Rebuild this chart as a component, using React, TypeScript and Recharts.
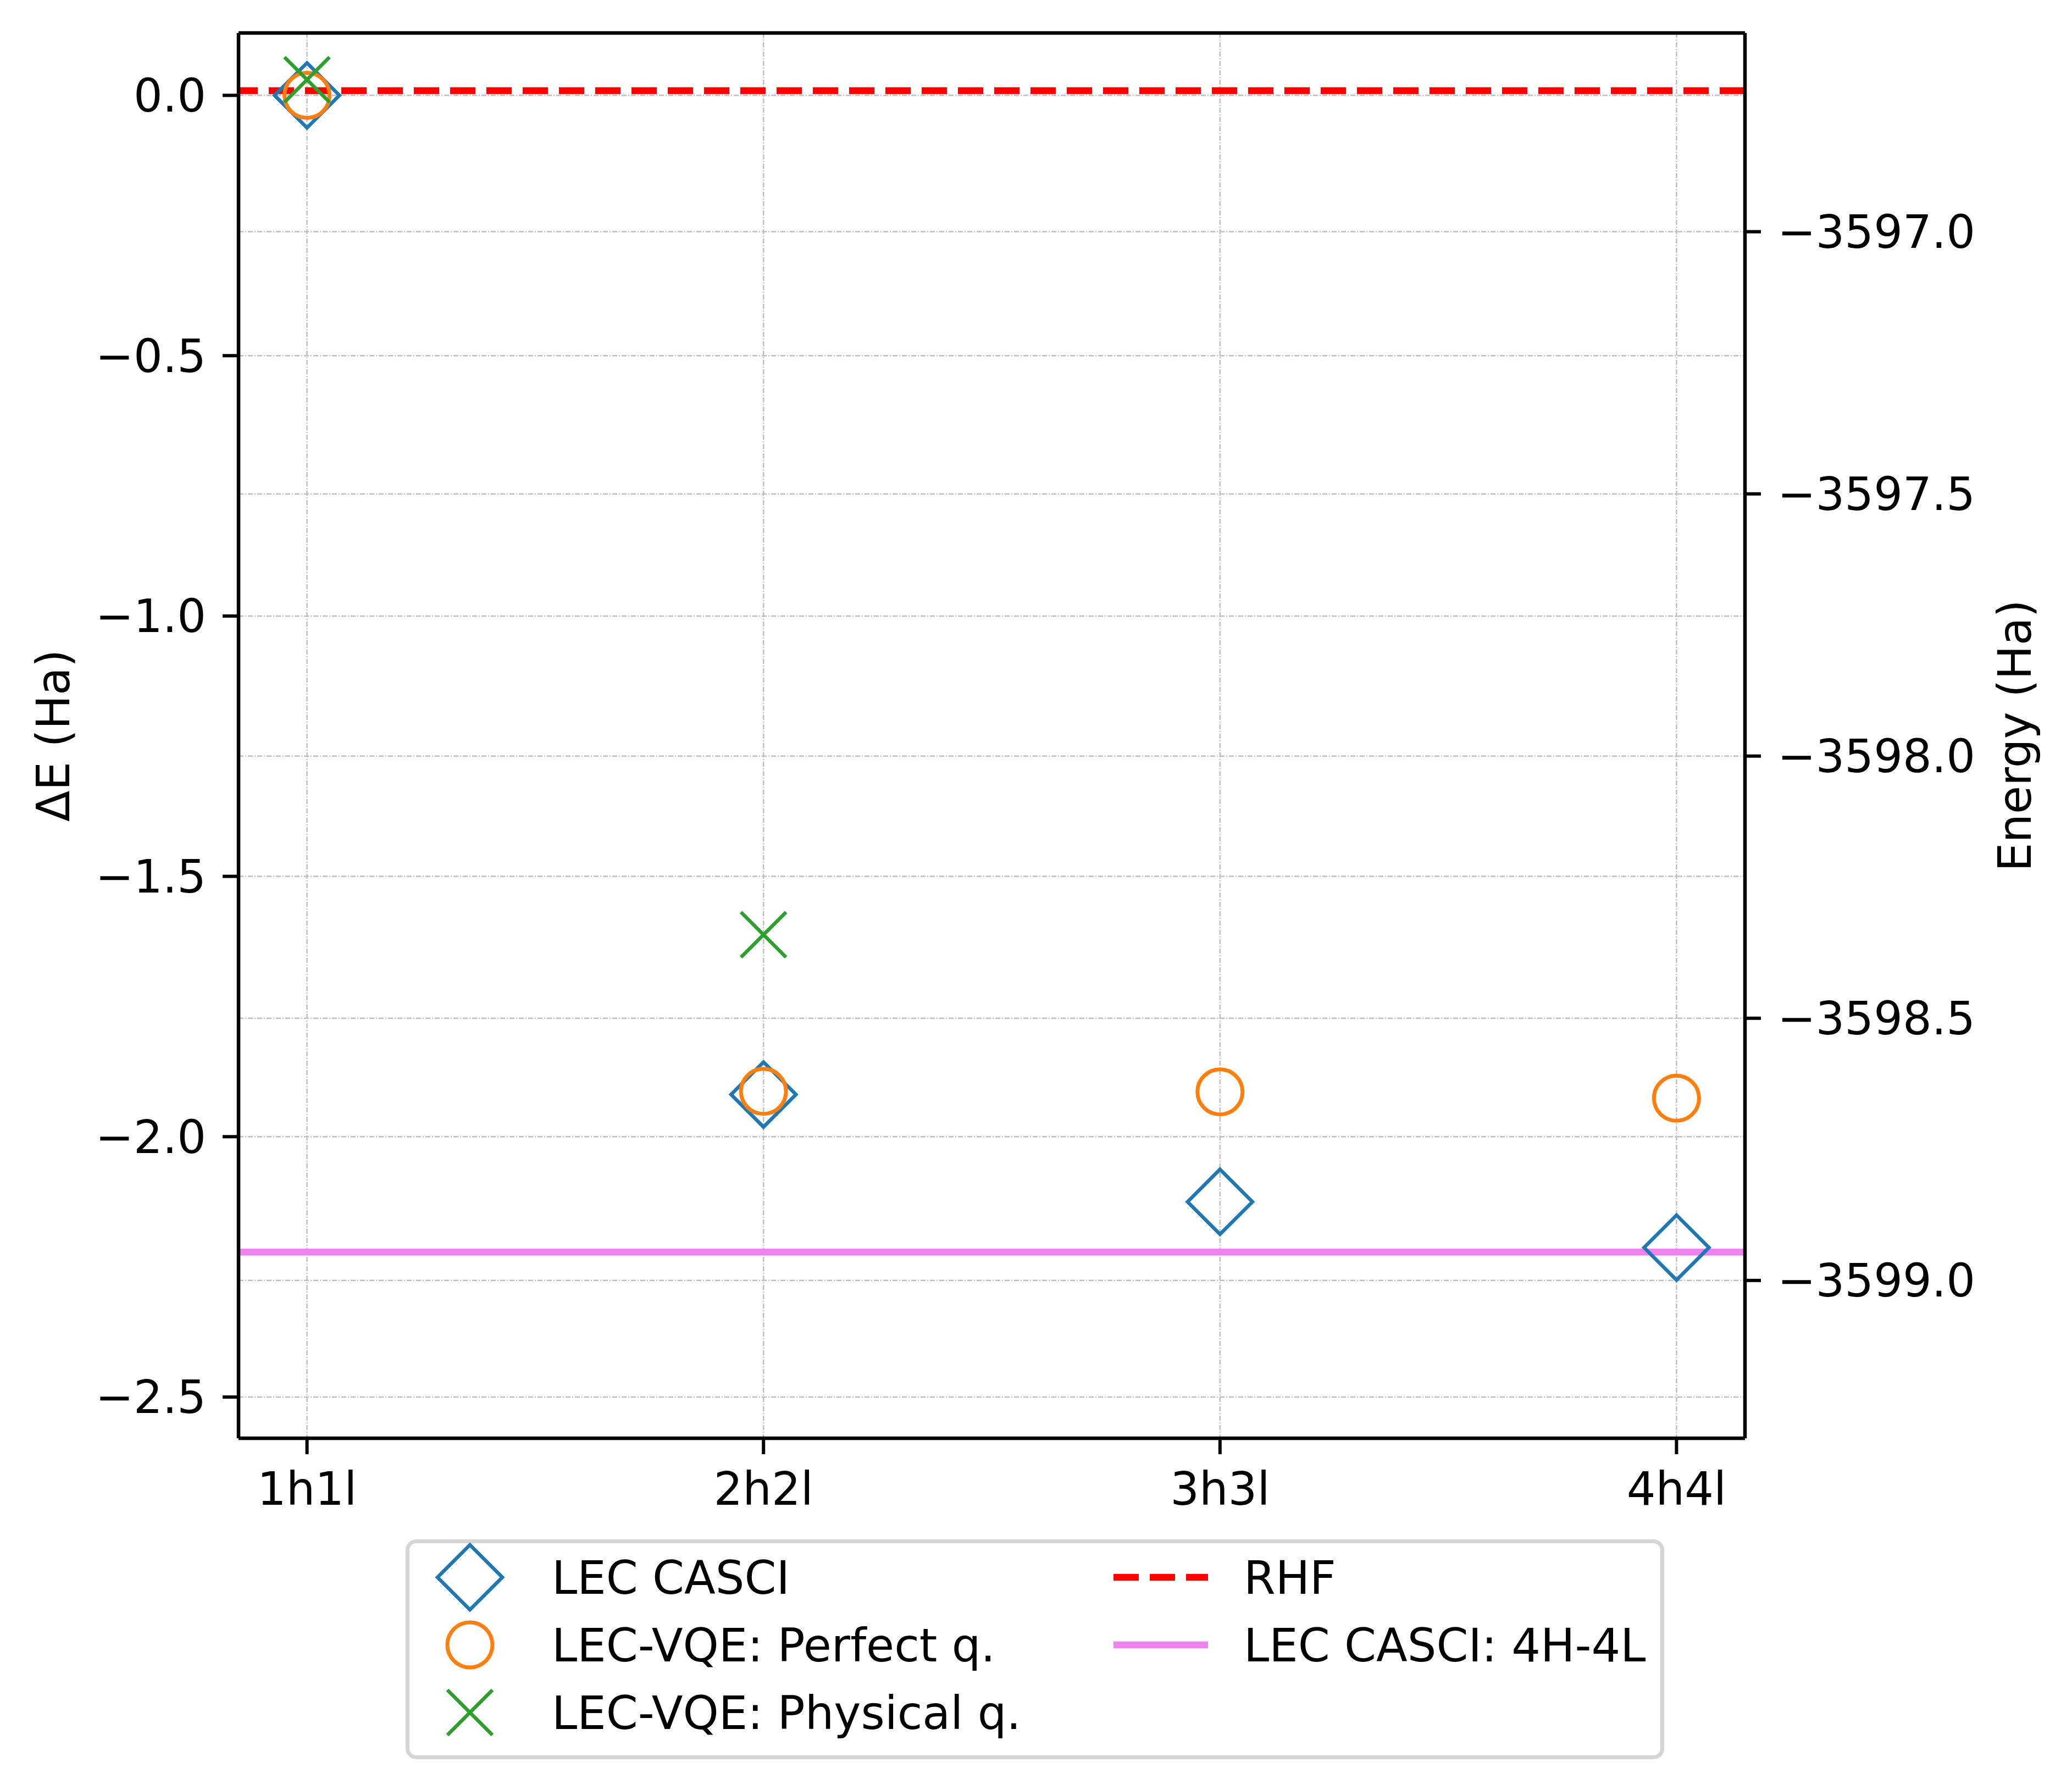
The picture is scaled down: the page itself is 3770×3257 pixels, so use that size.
import React from 'react';
import {
  ComposedChart,
  Scatter,
  XAxis,
  YAxis,
  CartesianGrid,
  ReferenceLine,
} from 'recharts';

// Active-space sizes along the x axis
const categories = ['1h1l', '2h2l', '3h3l', '4h4l'];

// ΔE (Ha), relative to the 1h1l LEC CASCI energy
const lecCasci = [0.0, -1.919, -2.125, -2.213];
const vqePerfect = [0.0, -1.913, -1.914, -1.926];
const vqePhysical = [0.03, -1.612];

// Absolute energies (Ha) on the right axis
const rhfEnergy = -3596.731;
const casci4h4lEnergy = -3598.946;

const leftTicks = [0.0, -0.5, -1.0, -1.5, -2.0, -2.5];
const rightTicks = [-3597.0, -3597.5, -3598.0, -3598.5, -3599.0];
const leftDomain = [-2.5792, 0.1198];
const rightDomain = [-3599.301, -3596.621];

const BLUE = '#1f77b4';
const ORANGE = '#ff7f0e';
const GREEN = '#2ca02c';
const FONT = 'DejaVu Sans, sans-serif';
const FS = 83;

const toPoints = (vals: number[]) => vals.map((y, i) => ({ x: i, y }));

const fmt = (v: number) => (v < 0 ? '\u2212' + Math.abs(v).toFixed(1) : v.toFixed(1));

const Diamond = ({ cx, cy }: any) => (
  <path
    d={`M${cx},${cy - 59} L${cx + 59},${cy} L${cx},${cy + 59} L${cx - 59},${cy} Z`}
    fill="none"
    stroke={BLUE}
    strokeWidth={6.5}
  />
);

const Circle = ({ cx, cy }: any) => (
  <circle cx={cx} cy={cy} r={41} fill="none" stroke={ORANGE} strokeWidth={7} />
);

const Cross = ({ cx, cy }: any) => (
  <path
    d={`M${cx - 41},${cy - 41} L${cx + 41},${cy + 41} M${cx - 41},${cy + 41} L${cx + 41},${cy - 41}`}
    fill="none"
    stroke={GREEN}
    strokeWidth={6.5}
  />
);

const legendItems = [
  { label: 'LEC CASCI', kind: 'diamond', col: 0, row: 0 },
  { label: 'LEC-VQE: Perfect q.', kind: 'circle', col: 0, row: 1 },
  { label: 'LEC-VQE: Physical q.', kind: 'cross', col: 0, row: 2 },
  { label: 'RHF', kind: 'dash', col: 1, row: 0 },
  { label: 'LEC CASCI: 4H-4L', kind: 'line', col: 1, row: 1 },
];

function LegendBox() {
  const rowY = (r: number) => 69 + r * 123;
  return (
    <svg
      width={2290}
      height={400}
      style={{ position: 'absolute', left: 738, top: 2801 }}
    >
      <rect x={3.5} y={3.5} width={2283} height={393} rx={16} fill="#fff" stroke="#d5d5d5" strokeWidth={7} />
      {legendItems.map((it) => {
        const y = rowY(it.row);
        const mx = it.col === 0 ? 117 : 1288;
        const tx = it.col === 0 ? 266 : 1525;
        let icon = null;
        if (it.kind === 'diamond') icon = <Diamond cx={mx} cy={y} />;
        if (it.kind === 'circle') icon = <Circle cx={mx} cy={y} />;
        if (it.kind === 'cross') icon = <Cross cx={mx} cy={y} />;
        if (it.kind === 'dash')
          icon = <line x1={mx} x2={mx + 172} y1={y} y2={y} stroke="#ff0000" strokeWidth={12.5} strokeDasharray="46 20" />;
        if (it.kind === 'line')
          icon = <line x1={mx} x2={mx + 172} y1={y} y2={y} stroke="#ee82ee" strokeWidth={12.5} />;
        return (
          <g key={it.label}>
            {icon}
            <text x={tx} y={y + 30} fontFamily={FONT} fontSize={FS} fill="#000">
              {it.label}
            </text>
          </g>
        );
      })}
    </svg>
  );
}

export default function App() {
  const tickStyle = { fontSize: FS, fill: '#000', fontFamily: FONT };
  return (
    <div style={{ position: 'absolute', left: 0, top: 0, width: 3770, height: 3257, background: '#fff' }}>
      <ComposedChart
        width={3770}
        height={3257}
        margin={{ top: 60, right: 0, bottom: 440, left: 0 }}
      >
        <CartesianGrid
          yAxisId="left"
          stroke="#bfbfbf"
          strokeWidth={2.5}
          strokeDasharray="9 3 2 3"
        />
        <CartesianGrid
          yAxisId="right"
          vertical={false}
          stroke="#bfbfbf"
          strokeWidth={2.5}
          strokeDasharray="9 3 2 3"
        />
        <XAxis
          dataKey="x"
          type="number"
          domain={[-0.15, 3.15]}
          ticks={[0, 1, 2, 3]}
          allowDataOverflow
          tickFormatter={(i: number) => categories[i]}
          height={200}
          tickSize={29}
          tickMargin={33}
          tick={tickStyle}
          axisLine={{ stroke: '#000', strokeWidth: 6.5 }}
          tickLine={{ stroke: '#000', strokeWidth: 6 }}
        />
        <YAxis
          yAxisId="left"
          type="number"
          domain={leftDomain}
          ticks={leftTicks}
          allowDataOverflow
          width={434}
          tickSize={29}
          tickMargin={30}
          tickFormatter={fmt}
          tick={tickStyle}
          axisLine={{ stroke: '#000', strokeWidth: 6.5 }}
          tickLine={{ stroke: '#000', strokeWidth: 6 }}
          label={({ viewBox }: any) => (
            <text
              x={viewBox.x + 97}
              y={viewBox.y + viewBox.height / 2}
              transform={`rotate(-90, ${viewBox.x + 97}, ${viewBox.y + viewBox.height / 2})`}
              textAnchor="middle"
              dominantBaseline="central"
              fontFamily={FONT}
              fontSize={FS}
              fill="#000"
            >
              ΔE (Ha)
            </text>
          )}
        />
        <YAxis
          yAxisId="right"
          orientation="right"
          type="number"
          domain={rightDomain}
          ticks={rightTicks}
          allowDataOverflow
          width={595}
          tickSize={29}
          tickMargin={30}
          tickFormatter={fmt}
          tick={tickStyle}
          axisLine={{ stroke: '#000', strokeWidth: 6.5 }}
          tickLine={{ stroke: '#000', strokeWidth: 6 }}
          label={({ viewBox }: any) => (
            <text
              x={viewBox.x + 491}
              y={viewBox.y + viewBox.height / 2}
              transform={`rotate(-90, ${viewBox.x + 491}, ${viewBox.y + viewBox.height / 2})`}
              textAnchor="middle"
              dominantBaseline="central"
              fontFamily={FONT}
              fontSize={FS}
              fill="#000"
            >
              Energy (Ha)
            </text>
          )}
        />
        <Scatter yAxisId="left" data={toPoints(lecCasci)} dataKey="y" shape={Diamond} isAnimationActive={false} />
        <Scatter yAxisId="left" data={toPoints(vqePerfect)} dataKey="y" shape={Circle} isAnimationActive={false} />
        <Scatter yAxisId="left" data={toPoints(vqePhysical)} dataKey="y" shape={Cross} isAnimationActive={false} />
        <ReferenceLine
          yAxisId="right"
          y={rhfEnergy}
          stroke="#ff0000"
          strokeWidth={12.5}
          strokeDasharray="46 20"
        />
        <ReferenceLine yAxisId="right" y={casci4h4lEnergy} stroke="#ee82ee" strokeWidth={12.5} />
        <ReferenceLine yAxisId="right" y={rightDomain[1]} stroke="#000" strokeWidth={6.5} />
      </ComposedChart>
      <LegendBox />
    </div>
  );
}
